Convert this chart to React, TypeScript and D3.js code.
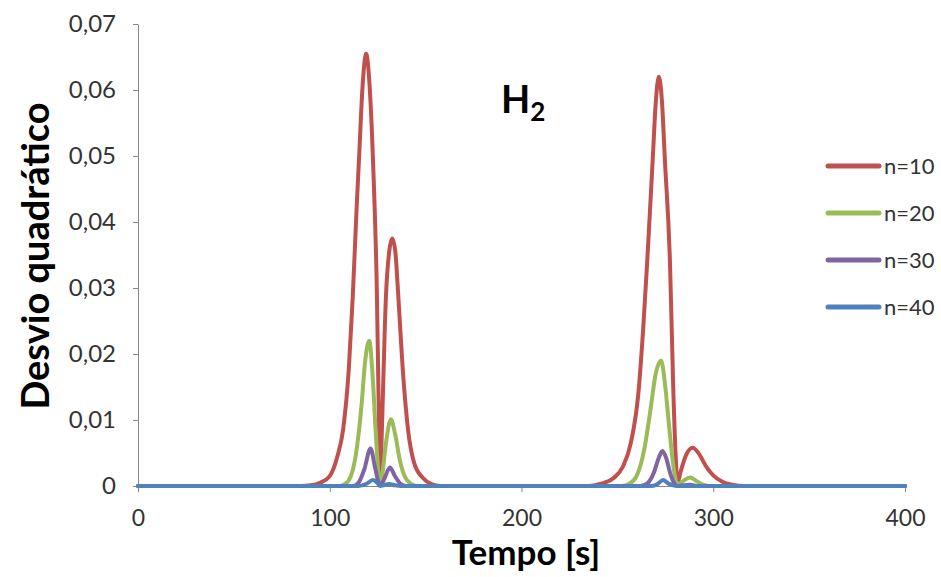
import React, { useEffect, useRef } from 'react';
import * as d3 from 'd3';

// values (time [s], squared deviation)
const n10Data: [number, number][] = [
  [0, 0], [85, 0], [90, 0.0001], [95, 0.0005], [100, 0.0015], [104, 0.0045], [107, 0.0086],
  [110, 0.018], [112, 0.0287], [114, 0.042], [115.5, 0.051], [117, 0.06], [119, 0.0655],
  [120.7, 0.061], [122.6, 0.049], [124.6, 0.029], [125.7, 0.009], [126.3, 0.0008],
  [127.2, 0.0086], [129.3, 0.0287], [131, 0.0355], [132.6, 0.0375], [134.2, 0.0355],
  [135.6, 0.0295], [138, 0.018], [140.8, 0.0086], [144, 0.0035], [148.6, 0.0012],
  [153, 0.0003], [158, 0], [235, 0], [241, 0.0003], [248, 0.0012], [253, 0.003],
  [257, 0.0065], [261, 0.0142], [263.5, 0.024], [265.6, 0.0342], [268.4, 0.0493],
  [270, 0.058], [271.6, 0.062], [273.2, 0.0585], [274.8, 0.0493], [277.4, 0.0342],
  [279.2, 0.0142], [280.5, 0.004], [281.3, 0.0005], [283, 0.0022], [286, 0.0048],
  [289.3, 0.0058], [292.5, 0.0049], [296, 0.0031], [300, 0.0016], [305, 0.0006],
  [310, 0.0002], [316, 0], [400, 0],
];

const n20Data: [number, number][] = [
  [0, 0], [105, 0], [108, 0.0003], [111, 0.0015], [114, 0.0055], [116.5, 0.012],
  [118.5, 0.019], [120.6, 0.022], [122.3, 0.017], [124, 0.008], [125.5, 0.0015],
  [126.3, 0.0002], [127.5, 0.002], [129.3, 0.0065], [131.9, 0.0101], [134, 0.008],
  [136.5, 0.004], [139, 0.0015], [142, 0.0004], [146, 0], [252, 0], [256, 0.0003],
  [260, 0.0015], [264, 0.0055], [267, 0.011], [270, 0.017], [272.8, 0.019], [275, 0.015],
  [277, 0.009], [279, 0.0035], [280.5, 0.0008], [281.3, 0.0002], [284, 0.0007],
  [288, 0.0013], [291, 0.0008], [294, 0.0003], [298, 0], [400, 0],
];

const n30Data: [number, number][] = [
  [0, 0], [112, 0], [115, 0.0005], [118, 0.0025], [121.3, 0.0057], [123.5, 0.003],
  [125.5, 0.0005], [126.3, 0.0001], [128, 0.0008], [131.4, 0.0028], [134, 0.0015],
  [137, 0.0003], [140, 0], [262, 0], [266, 0.0005], [269, 0.002], [271.5, 0.0042],
  [273.5, 0.0053], [275.5, 0.0042], [277.5, 0.002], [279.5, 0.0005], [281.3, 0],
  [284, 0.0001], [288, 0.0002], [292, 0], [400, 0],
];

const n40Data: [number, number][] = [
  [0, 0], [115, 0], [119, 0.0003], [122.5, 0.0009], [125, 0.0004], [126.3, 0],
  [128, 0.0001], [131, 0.0003], [134, 0.0001], [137, 0], [268, 0], [271, 0.0003],
  [273.8, 0.0009], [276.5, 0.0004], [279, 0.0001], [282, 0], [400, 0],
];

const seriesNames = ['n=10', 'n=20', 'n=30', 'n=40'];
const seriesColors = ['#C0504D', '#9BBB59', '#8064A2', '#4F81BD'];
const xTicks = [0, 100, 200, 300, 400];
const yTicks = [0, 0.01, 0.02, 0.03, 0.04, 0.05, 0.06, 0.07];

const W = 941;
const H = 577;
const FONT = 'Lato, "Open Sans", sans-serif';

export default function App() {
  const ref = useRef<SVGSVGElement>(null);

  useEffect(() => {
    const svg = d3.select(ref.current);
    svg.selectAll('*').remove();

    const x = d3.scaleLinear().domain([0, 400]).range([138, 905]);
    const y = d3.scaleLinear().domain([0, 0.07]).range([486, 24]);
    const fmt = (v: number) => (v === 0 ? '0' : d3.format('.2f')(v).replace('.', ','));

    svg.append('rect').attr('width', W).attr('height', H).attr('fill', '#fff');

    // y axis
    const yAxis = svg.append('g').attr('transform', `translate(${x(0)},0)`)
      .call(d3.axisLeft(y).tickValues(yTicks).tickSize(5).tickSizeOuter(0).tickFormat((d) => fmt(+d)));
    yAxis.select('.domain').attr('stroke', '#868686');
    yAxis.selectAll('.tick line').attr('stroke', '#868686');
    yAxis.selectAll('.tick text')
      .attr('x', -22)
      .attr('font-family', FONT).attr('font-size', 24).attr('fill', '#333');

    // x axis
    const xAxis = svg.append('g').attr('transform', `translate(0,${y(0)})`)
      .call(d3.axisBottom(x).tickValues(xTicks).tickSize(6).tickSizeOuter(0).tickFormat((d) => String(d)));
    xAxis.select('.domain').attr('stroke', '#868686');
    xAxis.selectAll('.tick line').attr('stroke', '#868686');
    xAxis.selectAll('.tick text')
      .attr('y', 40).attr('dy', 0)
      .attr('font-family', FONT).attr('font-size', 23).attr('fill', '#333');

    // curves
    const line = d3.line<[number, number]>()
      .x((d) => x(d[0]))
      .y((d) => y(d[1]))
      .curve(d3.curveMonotoneX);

    const allSeries = [n10Data, n20Data, n30Data, n40Data];
    allSeries.forEach((data, i) => {
      svg.append('path')
        .datum(data)
        .attr('d', line)
        .attr('fill', 'none')
        .attr('stroke', seriesColors[i])
        .attr('stroke-width', 4)
        .attr('stroke-linejoin', 'round')
        .attr('stroke-linecap', 'round');
    });

    // axis titles
    svg.append('text')
      .attr('x', 526).attr('y', 565)
      .attr('text-anchor', 'middle')
      .attr('font-family', FONT).attr('font-weight', 'bold').attr('font-size', 35)
      .text('Tempo [s]');

    svg.append('text')
      .attr('transform', 'translate(49,256) rotate(-90)')
      .attr('text-anchor', 'middle')
      .attr('font-family', FONT).attr('font-weight', 'bold').attr('font-size', 38)
      .text('Desvio quadrático');

    // H2 label
    const h2 = svg.append('text')
      .attr('x', 501).attr('y', 113)
      .attr('font-family', FONT).attr('font-weight', 'bold').attr('font-size', 38);
    h2.append('tspan').text('H');
    h2.append('tspan').attr('dy', 8).attr('font-size', 26).text('2');

    // legend
    const legend = svg.append('g');
    seriesNames.forEach((name, i) => {
      const ly = 166 + i * 47;
      legend.append('line')
        .attr('x1', 828).attr('x2', 879).attr('y1', ly).attr('y2', ly)
        .attr('stroke', seriesColors[i]).attr('stroke-width', 5).attr('stroke-linecap', 'round');
      legend.append('text')
        .attr('x', 884).attr('y', ly + 8)
        .attr('font-family', FONT).attr('font-size', 22).attr('fill', '#333')
        .text(name);
    });
  }, []);

  return (
    <div style={{ position: 'absolute', left: 0, top: 0 }}>
      <svg ref={ref} width={W} height={H} style={{ display: 'block' }} />
    </div>
  );
}
